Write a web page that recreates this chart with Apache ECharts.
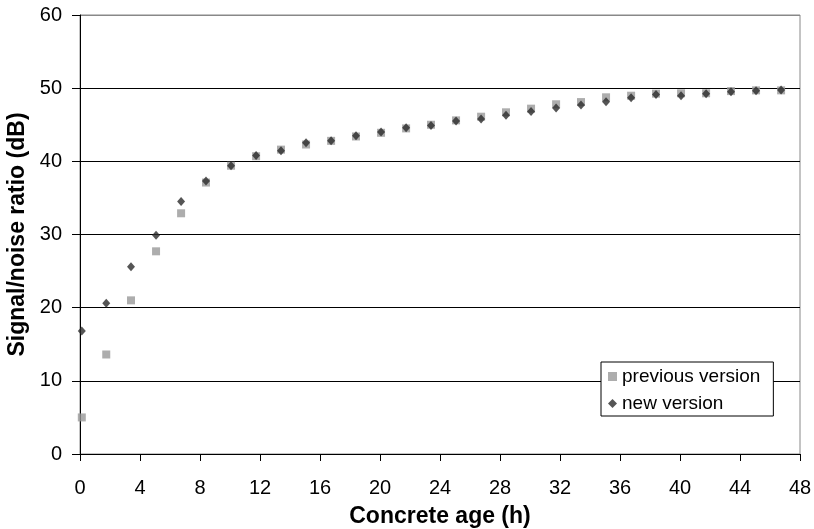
<!DOCTYPE html>
<html>
<head>
<meta charset="utf-8">
<script src="https://cdn.jsdelivr.net/npm/echarts@6/dist/echarts.min.js"></script>
<style>html,body{margin:0;padding:0;background:#fff}#c{width:814px;height:529px}</style>
</head>
<body>
<div id="c"></div>
<script>
const xTitle = 'Concrete age (h)';
const yTitle = 'Signal/noise ratio (dB)';
const ageHours = [0.12, 1.75, 3.4, 5.07, 6.74, 8.4, 10.07, 11.74, 13.4, 15.07, 16.74, 18.4, 20.07, 21.74, 23.4, 25.07, 26.74, 28.4, 30.07, 31.74, 33.4, 35.07, 36.74, 38.4, 40.07, 41.74, 43.4, 45.07, 46.74];
const previousVersion = [5.0, 13.6, 21.0, 27.7, 32.9, 37.1, 39.4, 40.7, 41.6, 42.3, 42.8, 43.4, 43.9, 44.5, 45.0, 45.6, 46.1, 46.7, 47.2, 47.8, 48.1, 48.75, 48.97, 49.25, 49.3, 49.3, 49.6, 49.7, 49.7];
const newVersion = [16.8, 20.6, 25.6, 29.9, 34.5, 37.3, 39.4, 40.8, 41.45, 42.55, 42.8, 43.5, 44.0, 44.6, 44.9, 45.5, 45.8, 46.3, 46.8, 47.3, 47.7, 48.15, 48.7, 49.15, 48.97, 49.25, 49.5, 49.65, 49.75];
const seriesNames = ['previous version', 'new version'];

const pairs = (xs, ys) => xs.map((x, i) => [x, ys[i]]);
const chart = echarts.init(document.getElementById('c'), null, {renderer: 'canvas'});
const font = '"Liberation Sans", Arial, sans-serif';
chart.setOption({
  animation: false,
  backgroundColor: '#fff',
  grid: {left: 80, right: 14, top: 15, bottom: 75, show: true, borderColor: '#888', borderWidth: 1,
         backgroundColor: 'transparent', containLabel: false, outerBoundsMode: 'none'},
  xAxis: {
    type: 'value', min: 0, max: 48, interval: 4,
    name: xTitle, nameLocation: 'middle', nameGap: 51,
    nameTextStyle: {fontFamily: font, fontSize: 23, fontWeight: 'bold', color: '#000'},
    axisLine: {show: true, lineStyle: {color: '#000', width: 1}},
    axisTick: {show: true, inside: false, length: 7, lineStyle: {color: '#000'}},
    axisLabel: {fontFamily: font, fontSize: 20, color: '#000', margin: 24},
    splitLine: {show: false}
  },
  yAxis: {
    type: 'value', min: 0, max: 60, interval: 10,
    name: yTitle, nameLocation: 'middle', nameGap: 48,
    nameTextStyle: {fontFamily: font, fontSize: 23, fontWeight: 'bold', color: '#000'},
    axisLine: {show: true, lineStyle: {color: '#000', width: 1}},
    axisTick: {show: true, inside: false, length: 8, lineStyle: {color: '#000'}},
    axisLabel: {fontFamily: font, fontSize: 20, color: '#000', margin: 18},
    splitLine: {show: true, lineStyle: {color: ['#000', '#000', '#000', '#000', '#000', '#000', '#888'], width: 1}}
  },
  legend: {
    show: true, orient: 'vertical', left: 601, top: 362,
    padding: [5, 13, 3, 7],
    backgroundColor: '#fff', borderColor: '#000', borderWidth: 1,
    itemWidth: 9, itemHeight: 9, itemGap: 8,
    textStyle: {fontFamily: font, fontSize: 19, color: '#000'},
    data: [
      {name: seriesNames[0], icon: 'rect', itemStyle: {color: '#999999'}},
      {name: seriesNames[1], icon: 'diamond', itemStyle: {color: '#2a2a2a'}}
    ]
  },
  series: [
    {name: seriesNames[0], type: 'scatter', symbol: 'rect', symbolSize: 8,
     itemStyle: {color: '#999999'}, data: pairs(ageHours, previousVersion), z: 2},
    {name: seriesNames[1], type: 'scatter', symbol: 'diamond', symbolSize: [8, 9],
     itemStyle: {color: '#2a2a2a'}, data: pairs(ageHours, newVersion), z: 3}
  ]
});
</script>
</body>
</html>
